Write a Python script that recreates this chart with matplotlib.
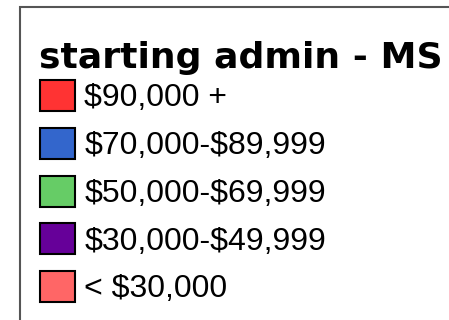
import matplotlib
matplotlib.use('Agg')
from matplotlib import pyplot as plt
from matplotlib.patches import Patch, Rectangle

plt.rcParams['font.family'] = ['Liberation Sans', 'DejaVu Sans']
plt.rcParams['text.parse_math'] = False

TITLE = 'starting admin - MS'
LABELS = ['$90,000 +', '$70,000-$89,999', '$50,000-$69,999',
          '$30,000-$49,999', '< $30,000']
COLORS = ['#ff3333', '#3366cc', '#66cc66', '#660099', '#ff6666']

W, H = 449, 320  # pixels
DPI = 100


def px(x, y):
    # pixel position (from top left) -> figure fraction
    return x / W, 1 - y / H


fig = plt.figure(figsize=(W / DPI, H / DPI), dpi=DPI)
fig.patch.set_facecolor('white')

# outer box, runs off the right and bottom edges
x0, y0 = px(20, 6.7)
fig.add_artist(Rectangle((x0, y0 - 2), 2, 2, transform=fig.transFigure,
                         facecolor='none', edgecolor='#555555',
                         linewidth=1.5))

fig.text(*px(39, 68), TITLE, family='DejaVu Sans', fontweight='bold',
         fontsize=26, ha='left', va='baseline')

handles = [Patch(facecolor=c, edgecolor='black', linewidth=1.5, label=l)
           for c, l in zip(COLORS, LABELS)]
fig.legend(handles=handles, loc='upper left', bbox_to_anchor=px(40, 80),
           frameon=False, fontsize=23, handlelength=1.09,
           handleheight=1.12, handletextpad=0.3, labelspacing=0.45,
           borderpad=0, borderaxespad=0)

fig.savefig('out.png', dpi=DPI)
